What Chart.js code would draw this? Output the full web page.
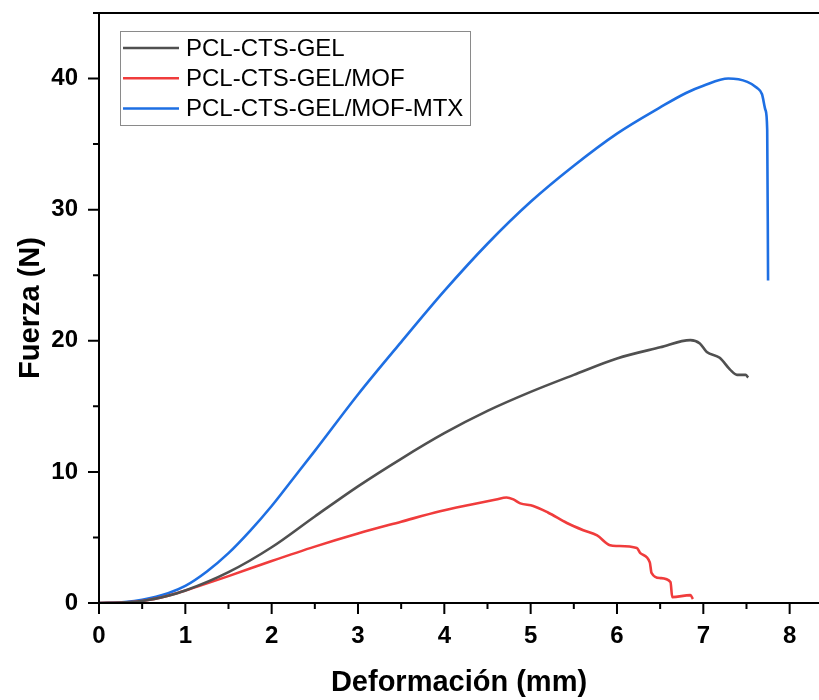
<!DOCTYPE html>
<html>
<head>
<meta charset="utf-8">
<script src="https://cdn.jsdelivr.net/npm/chart.js@4.4.1/dist/chart.umd.min.js"></script>
<style>
    html, body { margin: 0; padding: 0; background: #ffffff; }
    #wrap { width: 819px; height: 700px; position: relative; }
</style>
</head>
<body>
<div id="wrap"><canvas id="tensileChart"></canvas></div>
<script>
// Series data (x = deformation in mm, y = force in N)
const labels = ['PCL-CTS-GEL', 'PCL-CTS-GEL/MOF', 'PCL-CTS-GEL/MOF-MTX'];

const gelX = [0, 0.3, 0.5, 0.8, 1.0, 1.5, 2.0, 2.5, 3.0, 3.5, 4.0, 4.5, 5.0, 5.5, 6.0, 6.5, 6.85, 6.96, 7.04, 7.19, 7.31, 7.39, 7.49, 7.52];
const gelY = [0, 0.05, 0.15, 0.55, 0.95, 2.35, 4.25, 6.6, 8.9, 11.0, 12.95, 14.65, 16.1, 17.4, 18.65, 19.5, 20.05, 19.8, 19.15, 18.7, 17.8, 17.4, 17.4, 17.2];

const mofX = [0, 0.3, 0.5, 0.8, 1.0, 1.5, 2.0, 2.5, 3.0, 3.5, 3.95, 4.3, 4.6, 4.72, 4.8, 4.88, 5.03, 5.2, 5.42, 5.61, 5.77, 5.92, 6.0, 6.23, 6.27, 6.38, 6.40, 6.50, 6.62, 6.64, 6.85, 6.88];
const mofY = [0, 0.05, 0.15, 0.55, 0.95, 2.05, 3.2, 4.3, 5.3, 6.2, 7.0, 7.5, 7.9, 8.05, 7.9, 7.6, 7.4, 6.9, 6.1, 5.55, 5.15, 4.4, 4.35, 4.2, 3.8, 3.1, 2.3, 1.9, 1.6, 0.45, 0.6, 0.3];

const mtxX = [0, 0.3, 0.5, 0.8, 1.0, 1.25, 1.5, 1.75, 2.0, 2.25, 2.5, 3.0, 3.5, 4.0, 4.5, 5.0, 5.5, 6.0, 6.5, 6.8, 7.0, 7.29, 7.51, 7.62, 7.68, 7.72, 7.74, 7.75];
const mtxY = [0, 0.08, 0.25, 0.75, 1.3, 2.4, 3.8, 5.5, 7.4, 9.5, 11.6, 15.9, 19.9, 23.8, 27.4, 30.6, 33.35, 35.8, 37.8, 38.9, 39.45, 40.0, 39.75, 39.3, 38.8, 37.6, 36.1, 24.6];

// Axis ticks
const xTicks = [0, 1, 2, 3, 4, 5, 6, 7, 8];
const xMinor = [0.5, 1.5, 2.5, 3.5, 4.5, 5.5, 6.5, 7.5];
const yTicks = [0, 10, 20, 30, 40];
const yMinor = [5, 15, 25, 35];

const colors = ['#505050', '#f03c3c', '#1e6fe3'];
const FONT = '"Liberation Sans", Arial, sans-serif';

const toPoints = (xs, ys) => xs.map((x, i) => ({ x: x, y: ys[i] }));

// Draws axis lines, tick marks and the frame's top edge
const axesPlugin = {
    id: 'axesPlugin',
    afterDatasetsDraw(chart) {
        const ctx = chart.ctx;
        const area = chart.chartArea;
        const xs = chart.scales.x;
        const ys = chart.scales.y;
        ctx.save();
        ctx.strokeStyle = '#000000';
        ctx.lineWidth = 2;
        ctx.beginPath();
        ctx.moveTo(area.left, area.top);
        ctx.lineTo(area.left, area.bottom);
        ctx.moveTo(area.left, area.bottom);
        ctx.lineTo(area.right, area.bottom);
        ctx.moveTo(area.left - 6, area.top);
        ctx.lineTo(area.right, area.top);
        xTicks.forEach(v => {
            const px = xs.getPixelForValue(v);
            ctx.moveTo(px, area.bottom);
            ctx.lineTo(px, area.bottom + 11);
        });
        xMinor.forEach(v => {
            const px = xs.getPixelForValue(v);
            ctx.moveTo(px, area.bottom);
            ctx.lineTo(px, area.bottom + 6);
        });
        yTicks.forEach(v => {
            const py = ys.getPixelForValue(v);
            ctx.moveTo(area.left, py);
            ctx.lineTo(area.left - 11, py);
        });
        yMinor.forEach(v => {
            const py = ys.getPixelForValue(v);
            ctx.moveTo(area.left, py);
            ctx.lineTo(area.left - 6, py);
        });
        ctx.stroke();
        ctx.restore();
    }
};

// Boxed legend in the upper left corner of the plot
const legendPlugin = {
    id: 'boxLegend',
    afterDraw(chart) {
        const ctx = chart.ctx;
        const left = 120.5, top = 31.5, w = 350, h = 94;
        ctx.save();
        ctx.fillStyle = '#ffffff';
        ctx.fillRect(left, top, w, h);
        ctx.strokeStyle = '#8a8a8a';
        ctx.lineWidth = 1;
        ctx.strokeRect(left, top, w, h);
        ctx.font = '24px ' + FONT;
        ctx.textBaseline = 'middle';
        chart.data.datasets.forEach((ds, i) => {
            const y = 48 + i * 30.2;
            ctx.strokeStyle = ds.borderColor;
            ctx.lineWidth = 2.5;
            ctx.beginPath();
            ctx.moveTo(123, y);
            ctx.lineTo(179, y);
            ctx.stroke();
            ctx.fillStyle = '#000000';
            ctx.fillText(ds.label, 186, y + 1);
        });
        ctx.restore();
    }
};

const ctx = document.getElementById('tensileChart');
new Chart(ctx, {
    type: 'line',
    data: {
        datasets: [
            { label: labels[0], data: toPoints(gelX, gelY), borderColor: colors[0] },
            { label: labels[1], data: toPoints(mofX, mofY), borderColor: colors[1] },
            { label: labels[2], data: toPoints(mtxX, mtxY), borderColor: colors[2] }
        ]
    },
    options: {
        responsive: true,
        maintainAspectRatio: false,
        animation: false,
        layout: { padding: { top: 13, left: 0, right: 0, bottom: 0 } },
        elements: {
            point: { radius: 0 },
            line: { borderWidth: 2.6, cubicInterpolationMode: 'monotone', fill: false }
        },
        scales: {
            x: {
                type: 'linear',
                min: 0,
                max: 8.34,
                afterBuildTicks: s => { s.ticks = xTicks.map(v => ({ value: v })); },
                afterFit: s => { s.height = 97; s.paddingLeft = 0; s.paddingRight = 0; },
                grid: { display: false, drawTicks: false },
                border: { display: false },
                ticks: { color: '#000000', padding: 19, maxRotation: 0, autoSkip: false, font: { family: FONT, size: 24, weight: 'bold' } },
                title: { display: true, text: 'Deformación (mm)', color: '#000000', padding: { top: 0, bottom: 0 }, font: { family: FONT, size: 29, weight: 'bold' } }
            },
            y: {
                min: 0,
                max: 45,
                afterBuildTicks: s => { s.ticks = yTicks.map(v => ({ value: v })); },
                afterFit: s => { s.width = 99; s.paddingTop = 0; s.paddingBottom = 0; },
                grid: { display: false, drawTicks: false },
                border: { display: false },
                ticks: { color: '#000000', padding: 21, autoSkip: false, font: { family: FONT, size: 24, weight: 'bold' } },
                title: { display: true, text: 'Fuerza (N)', color: '#000000', padding: { top: 14, bottom: 0 }, font: { family: FONT, size: 29, weight: 'bold' } }
            }
        },
        plugins: {
            legend: { display: false },
            tooltip: { enabled: false }
        }
    },
    plugins: [axesPlugin, legendPlugin]
});
</script>
</body>
</html>
